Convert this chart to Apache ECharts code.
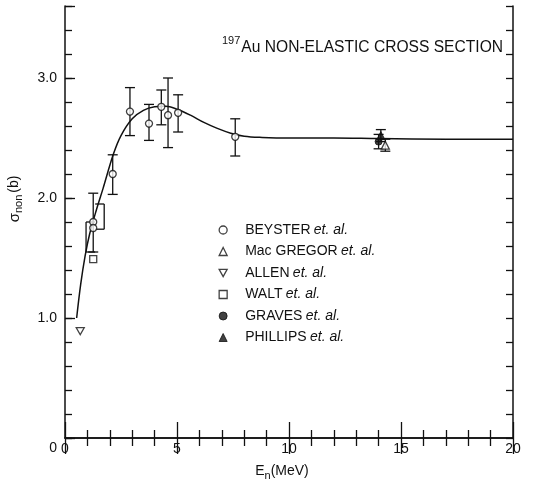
<!DOCTYPE html>
<html>
<head>
<meta charset="utf-8">
<script src="https://cdn.jsdelivr.net/npm/echarts@6/dist/echarts.min.js"></script>
<style>
html, body { margin: 0; padding: 0; background: #fff; }
#chart { width: 554px; height: 488px; }
</style>
</head>
<body>
<div id="chart"></div>
<script>
// 197Au non-elastic cross section versus neutron energy

// Evaluated curve
const curveE     = [0.52, 0.7, 0.9, 1.1, 1.4, 1.7, 2.15, 2.5, 3.0, 3.5, 4.0, 4.5, 5.0, 5.6, 6.2, 6.8, 7.4, 8.0, 8.8, 10, 12, 14, 17, 20];
const curveSigma = [1.0, 1.28, 1.52, 1.70, 1.90, 2.08, 2.36, 2.52, 2.66, 2.73, 2.76, 2.765, 2.74, 2.69, 2.63, 2.58, 2.54, 2.515, 2.505, 2.50, 2.50, 2.495, 2.49, 2.49];

// Beyster et al.
const beysterE     = [1.26, 1.26, 2.13, 2.9, 3.75, 4.3, 4.6, 5.05, 7.6];
const beysterSigma = [1.80, 1.75, 2.20, 2.72, 2.62, 2.76, 2.69, 2.71, 2.51];
const beysterLow   = [1.55, null, 2.03, 2.52, 2.48, 2.61, 2.42, 2.55, 2.35];
const beysterHigh  = [2.04, null, 2.36, 2.92, 2.78, 2.90, 3.00, 2.86, 2.66];

// Mac Gregor et al.
const macgregorE     = [14.3];
const macgregorSigma = [2.44];
const macgregorLow   = [2.39];
const macgregorHigh  = [2.49];

// Allen et al.
const allenE     = [0.68];
const allenSigma = [0.89];

// Walt et al.
const waltE     = [1.26];
const waltSigma = [1.49];
// bracket-style uncertainty marks near Walt's point (side: +1 caps right, -1 caps left)
const bracketE    = [0.94, 1.75];
const bracketLow  = [1.55, 1.74];
const bracketHigh = [1.80, 1.95];
const bracketSide = [1, -1];

// Graves et al.
const gravesE     = [14.0];
const gravesSigma = [2.47];
const gravesLow   = [2.41];
const gravesHigh  = [2.53];

// Phillips et al.
const phillipsE     = [14.1];
const phillipsSigma = [2.52];
const phillipsLow   = [2.47];
const phillipsHigh  = [2.57];

// Axis tick labels
const xTickLabels = [0, 5, 10, 15, 20];
const yTickLabels = [0, 1, 2, 3];

const FONT = '"Liberation Sans", Arial, sans-serif';
const INK = '#111';

const zip = (a, b) => a.map((v, i) => [v, b[i]]);

function errorRows(e, lo, hi) {
  const rows = [];
  e.forEach((x, i) => { if (lo[i] != null && hi[i] != null) rows.push([x, lo[i], hi[i]]); });
  return rows;
}

const errorData = [].concat(
  errorRows(beysterE, beysterLow, beysterHigh),
  errorRows(macgregorE, macgregorLow, macgregorHigh),
  errorRows(gravesE, gravesLow, gravesHigh),
  errorRows(phillipsE, phillipsLow, phillipsHigh)
);
const bracketData = bracketE.map((x, i) => [x, bracketLow[i], bracketHigh[i], bracketSide[i]]);

const lineStyle = { stroke: INK, lineWidth: 1.3 };

function renderErrorBar(params, api) {
  const x = api.value(0);
  const p1 = api.coord([x, api.value(1)]);
  const p2 = api.coord([x, api.value(2)]);
  const w = 5;
  return {
    type: 'group',
    children: [
      { type: 'line', shape: { x1: p1[0], y1: p1[1], x2: p2[0], y2: p2[1] }, style: lineStyle },
      { type: 'line', shape: { x1: p1[0] - w, y1: p1[1], x2: p1[0] + w, y2: p1[1] }, style: lineStyle },
      { type: 'line', shape: { x1: p2[0] - w, y1: p2[1], x2: p2[0] + w, y2: p2[1] }, style: lineStyle }
    ]
  };
}

function renderBracket(params, api) {
  const x = api.value(0);
  const side = api.value(3);
  const p1 = api.coord([x, api.value(1)]);
  const p2 = api.coord([x, api.value(2)]);
  const w = 9 * side;
  return {
    type: 'group',
    children: [
      { type: 'line', shape: { x1: p1[0], y1: p1[1], x2: p2[0], y2: p2[1] }, style: lineStyle },
      { type: 'line', shape: { x1: p1[0], y1: p1[1], x2: p1[0] + w, y2: p1[1] }, style: lineStyle },
      { type: 'line', shape: { x1: p2[0], y1: p2[1], x2: p2[0] + w, y2: p2[1] }, style: lineStyle }
    ]
  };
}

const downTriangle = 'path://M0,0 L10,0 L5,9 Z';
const openStyle = { color: '#fff', borderColor: INK, borderWidth: 1.3 };
const filledStyle = { color: INK, borderColor: INK, borderWidth: 1 };

const axisLine = { show: true, lineStyle: { color: INK, width: 1.5 } };
const tickLine = { color: INK, width: 1.3 };

const chart = echarts.init(document.getElementById('chart'), null, { renderer: 'canvas' });

chart.setOption({
  backgroundColor: '#fff',
  animation: false,
  textStyle: { fontFamily: FONT },
  grid: { left: 65, right: 41, top: 6, bottom: 50 },
  title: {
    text: '{s|197}{n|Au NON-ELASTIC CROSS SECTION}',
    left: 222, top: 35, padding: 0,
    textStyle: {
      fontWeight: 'normal',
      rich: {
        s: { fontSize: 11, fontFamily: FONT, fontWeight: 'normal', color: INK, verticalAlign: 'top', lineHeight: 12 },
        n: { fontSize: 15.6, fontFamily: FONT, fontWeight: 'normal', color: INK, verticalAlign: 'bottom', lineHeight: 21, padding: [0, 0, 0, 1] }
      }
    }
  },
  legend: {
    orient: 'vertical',
    left: 218.5, top: 223, padding: 0,
    itemWidth: 8, itemHeight: 8,
    itemGap: 7.5,
    selectedMode: false,
    data: [
      { name: 'BEYSTER', icon: 'circle', itemStyle: openStyle },
      { name: 'Mac GREGOR', icon: 'triangle', itemStyle: openStyle },
      { name: 'ALLEN', icon: downTriangle, itemStyle: openStyle },
      { name: 'WALT', icon: 'rect', itemStyle: openStyle },
      { name: 'GRAVES', icon: 'circle', itemStyle: filledStyle },
      { name: 'PHILLIPS', icon: 'triangle', itemStyle: filledStyle }
    ],
    formatter: name => '{n|' + name + '} {i|et. al.}',
    textStyle: {
      rich: {
        n: { fontSize: 14, fontFamily: FONT, color: INK, lineHeight: 16, padding: [0, 0, 0, 13] },
        i: { fontSize: 14, fontFamily: FONT, color: INK, fontStyle: 'italic', lineHeight: 16 }
      }
    }
  },
  xAxis: [
    {
      type: 'value', position: 'bottom', min: 0, max: 20, interval: 5,
      axisLine: axisLine,
      axisTick: { show: true, inside: true, length: 16, lineStyle: tickLine },
      minorTick: { show: true, splitNumber: 5, length: 8, lineStyle: tickLine },
      splitLine: { show: false },
      axisLabel: {
        color: INK, fontSize: 14, fontFamily: FONT, margin: 4,
        formatter: v => xTickLabels.includes(v) ? String(v) : ''
      },
      name: '{e|E}{b|n}{m|(MeV)}',
      nameLocation: 'middle', nameGap: 26,
      nameTextStyle: {
        padding: [0, 14, 0, 0],
        rich: {
          e: { fontSize: 14, fontFamily: FONT, color: INK, verticalAlign: 'top', lineHeight: 16 },
          b: { fontSize: 11, fontFamily: FONT, color: INK, verticalAlign: 'top', lineHeight: 12, padding: [6, 0, 0, 0] },
          m: { fontSize: 14, fontFamily: FONT, color: INK, verticalAlign: 'top', lineHeight: 16 }
        }
      }
    },
    {
      type: 'value', position: 'top', min: 0, max: 20, interval: 5,
      axisLine: axisLine,
      axisTick: { show: true, inside: true, length: 16, lineStyle: tickLine },
      minorTick: { show: true, splitNumber: 5, length: 8, lineStyle: tickLine },
      splitLine: { show: false },
      axisLabel: { show: false }
    }
  ],
  yAxis: [
    {
      type: 'value', position: 'left', min: 0, max: 3.6, interval: 0.2,
      axisLine: axisLine,
      axisTick: { show: true, inside: true, length: 7, lineStyle: tickLine },
      splitLine: { show: false },
      axisLabel: { show: false }
    },
    {
      type: 'value', position: 'left', min: 0, max: 3.6, interval: 1,
      axisLine: { show: false },
      axisTick: { show: true, inside: true, length: 10, lineStyle: tickLine },
      splitLine: { show: false },
      axisLabel: {
        color: INK, fontSize: 14, fontFamily: FONT, margin: 8,
        formatter: v => {
          if (!yTickLabels.includes(v)) return '';
          return v === 0 ? '{z|0}' : v.toFixed(1);
        },
        rich: { z: { fontSize: 14, fontFamily: FONT, color: INK, padding: [20, 0, 0, 0] } }
      }
    },
    {
      type: 'value', position: 'right', min: 0, max: 3.6, interval: 0.2,
      axisLine: axisLine,
      axisTick: { show: true, inside: true, length: 7, lineStyle: tickLine },
      splitLine: { show: false },
      axisLabel: { show: false }
    }
  ],
  graphic: [
    {
      type: 'text',
      x: 15, y: 199,
      rotation: Math.PI / 2,
      style: {
        text: '{s|σ}{b|non}{n|(b)}',
        align: 'center', verticalAlign: 'middle',
        rich: {
          s: { fontSize: 15, fontFamily: FONT, fill: INK, verticalAlign: 'top', lineHeight: 16 },
          b: { fontSize: 11, fontFamily: FONT, fill: INK, verticalAlign: 'top', lineHeight: 12, padding: [6, 0, 0, 0] },
          n: { fontSize: 14, fontFamily: FONT, fill: INK, verticalAlign: 'top', lineHeight: 16, padding: [0, 0, 0, 2] }
        }
      }
    }
  ],
  series: [
    {
      name: 'curve', type: 'line', xAxisIndex: 0, yAxisIndex: 0,
      data: zip(curveE, curveSigma),
      smooth: 0.35, symbol: 'none',
      lineStyle: { color: INK, width: 1.5 },
      z: 2
    },
    {
      name: 'errors', type: 'custom', xAxisIndex: 0, yAxisIndex: 0,
      data: errorData, renderItem: renderErrorBar, z: 3, silent: true
    },
    {
      name: 'brackets', type: 'custom', xAxisIndex: 0, yAxisIndex: 0,
      data: bracketData, renderItem: renderBracket, z: 3, silent: true
    },
    {
      name: 'BEYSTER', type: 'scatter', xAxisIndex: 0, yAxisIndex: 0,
      data: zip(beysterE, beysterSigma), symbol: 'circle', symbolSize: 7,
      itemStyle: openStyle, z: 5
    },
    {
      name: 'Mac GREGOR', type: 'scatter', xAxisIndex: 0, yAxisIndex: 0,
      data: zip(macgregorE, macgregorSigma), symbol: 'triangle', symbolSize: 8,
      itemStyle: openStyle, z: 5
    },
    {
      name: 'ALLEN', type: 'scatter', xAxisIndex: 0, yAxisIndex: 0,
      data: zip(allenE, allenSigma), symbol: downTriangle, symbolSize: [8, 7],
      itemStyle: openStyle, z: 5
    },
    {
      name: 'WALT', type: 'scatter', xAxisIndex: 0, yAxisIndex: 0,
      data: zip(waltE, waltSigma), symbol: 'rect', symbolSize: 7,
      itemStyle: openStyle, z: 5
    },
    {
      name: 'GRAVES', type: 'scatter', xAxisIndex: 0, yAxisIndex: 0,
      data: zip(gravesE, gravesSigma), symbol: 'circle', symbolSize: 7,
      itemStyle: filledStyle, z: 5
    },
    {
      name: 'PHILLIPS', type: 'scatter', xAxisIndex: 0, yAxisIndex: 0,
      data: zip(phillipsE, phillipsSigma), symbol: 'triangle', symbolSize: 8,
      itemStyle: filledStyle, z: 5
    }
  ]
});
</script>
</body>
</html>
